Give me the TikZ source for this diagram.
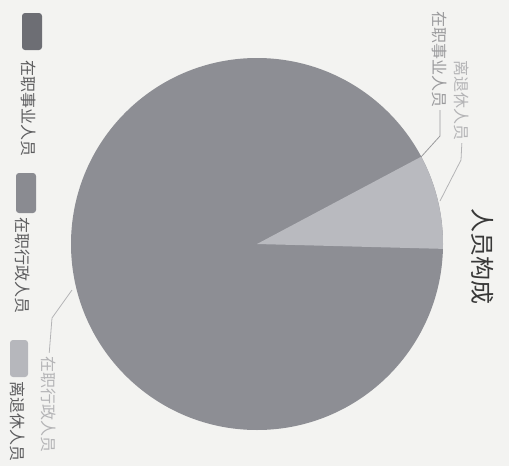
\documentclass[tikz,border=0pt]{standalone}
\usepackage{fontspec}
\newfontfamily\cjk{Noto Sans CJK SC}
\definecolor{bgc}{HTML}{F3F3F1}
\definecolor{pieA}{HTML}{8D8E94}
\definecolor{pieB}{HTML}{B9BABF}
\definecolor{swA}{HTML}{6D6E74}
\definecolor{swB}{HTML}{8A8B91}
\definecolor{swC}{HTML}{B6B7BC}
\definecolor{legtxt}{HTML}{5C5C5E}
\definecolor{lbltxt}{HTML}{9A9A9C}
\definecolor{lbltxtl}{HTML}{B4B4B6}
\begin{document}
\begin{tikzpicture}[x=1pt,y=-1pt,
  vtext/.style={rotate=-90,inner sep=0pt,font=\cjk\fontsize{16}{16}\selectfont},
  legtext/.style={vtext,text=legtxt},
  swatch/.style={rounded corners=3pt,draw=none},
  leader/.style={line width=0.8pt},
]
\fill[bgc] (0,0) rectangle (509,466);
\useasboundingbox (0,0) rectangle (509,466);

% pie (y axis flipped: positive angles go clockwise in the image)
\coordinate (c) at (257,244);
\fill[pieA] (c) circle[radius=186];
\fill[pieB] (c) -- ++(1.5:186) arc[start angle=1.5,end angle=-28,radius=186] -- cycle;

\coordinate (p1) at (421,157);
\coordinate (p2) at (440,201);
\coordinate (p3) at (72,290);

% title
\node[rotate=-90,inner sep=0pt,font=\cjk\fontsize{24}{24}\selectfont,text=black!78] (title) at (483,256) {人员构成};

% legend
\fill[swatch,swA] (22,13) rectangle (42,50);
\node[legtext] (leg1) at (29,108) {在职事业人员};
\fill[swatch,swB] (16,173) rectangle (36,213);
\node[legtext] (leg2) at (23,265) {在职行政人员};
\fill[swatch,swC] (10,340) rectangle (28,377);
\node[legtext] (leg3) at (18,421) {离退休人员};

% labels
\node[vtext,text=lbltxt] (l1) at (440,59) {在职事业人员};
\node[vtext,text=lbltxtl] (l2) at (462,100) {离退休人员};
\node[vtext,text=lbltxtl] (l3) at (49,404) {在职行政人员};

\draw[leader,lbltxt,shorten <=3pt] (l1.east) -- (440,136) -- (p1);
\draw[leader,lbltxtl,shorten <=3pt] (l2.east) -- (461,160) -- (p2);
\draw[leader,lbltxtl,shorten <=3pt] (l3.west) -- (52,318) -- (p3);
\end{tikzpicture}
\end{document}
